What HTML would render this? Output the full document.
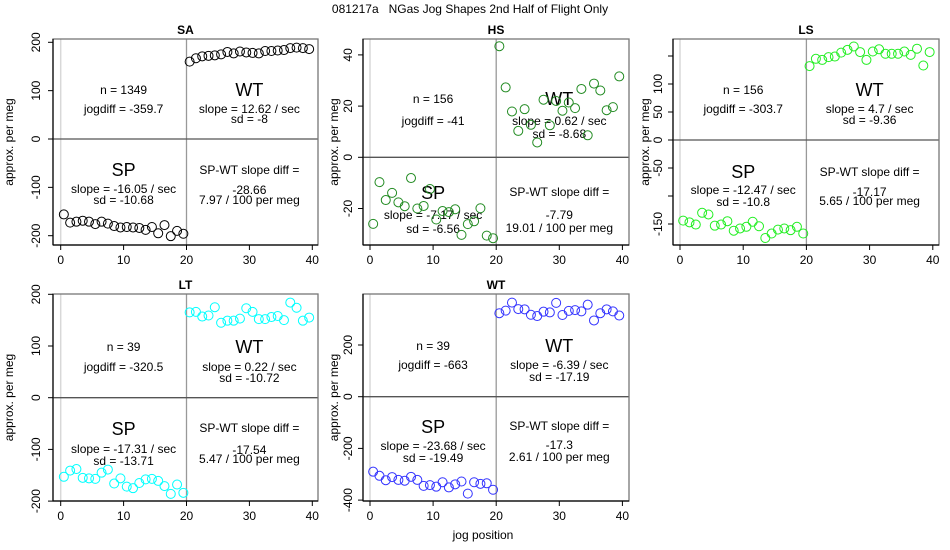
<!DOCTYPE html>
<html><head><meta charset="utf-8">
<style>
html,body{margin:0;padding:0;background:#fff;}
svg{display:block;font-family:"Liberation Sans",Arial,sans-serif;}
</style></head>
<body>
<svg id="chart" width="950" height="550" viewBox="0 0 950 550" xmlns="http://www.w3.org/2000/svg">
<rect x="0" y="0" width="950" height="550" fill="#fff"/>
<text x="470" y="13" font-size="12" text-anchor="middle" fill="#000">081217a&#160;&#160;&#160;NGas Jog Shapes 2nd Half of Flight Only</text>
<text x="483" y="539" font-size="12" text-anchor="middle" fill="#000">jog position</text>
</svg>
<script>
// ---- data ----
const spX = [0.5,1.5,2.5,3.5,4.5,5.5,6.5,7.5,8.5,9.5,10.5,11.5,12.5,13.5,14.5,15.5,16.5,17.5,18.5,19.5];
const wtX = [20.5,21.5,22.5,23.5,24.5,25.5,26.5,27.5,28.5,29.5,30.5,31.5,32.5,33.5,34.5,35.5,36.5,37.5,38.5,39.5];
const xTicks = [0,10,20,30,40];

const saSP = [-156,-173,-171,-169,-171,-176,-171,-175,-180,-183,-182,-183,-184,-188,-182,-195,-178,-201,-190,-196];
const saWT = [160,167,171,172,173,175,180,177,181,179,178,177,182,182,183,184,188,189,188,186];
const hsSP = [-26,-9.7,-16.7,-13.9,-17.6,-19.1,-8.1,-20,-19,-12.4,-24.3,-21,-21.4,-20.3,-30.3,-26.1,-25,-19.9,-30.6,-31.6];
const hsWT = [43.4,27.3,17.9,10.3,18.8,12.7,5.8,22.5,12.5,22,18.2,21.4,19.2,26.7,8.6,28.8,26.1,18.4,19.6,31.6];
const lsSP = [-144,-147,-151,-130,-133,-153,-151,-145,-162,-158,-155,-146,-154,-175,-167,-160,-158,-161,-155,-167];
const lsWT = [132,145,143,148,149,156,161,167,157,143,158,162,154,154,154,158,152,163,133,157];
const ltSP = [-153,-141,-138,-155,-156,-157,-145,-139,-166,-156,-172,-175,-165,-158,-157,-161,-171,-186,-168,-184];
const ltWT = [165,166,157,159,175,145,149,149,153,173,166,152,152,156,158,150,184,174,149,155];
const wtSP = [-290,-306,-323,-311,-322,-325,-310,-322,-345,-342,-348,-331,-351,-339,-328,-375,-331,-337,-335,-360];
const wtWT = [323,333,364,339,338,317,312,329,326,363,316,332,335,330,356,295,323,338,330,314];

const saYTicks = [-200,-100,0,100,200];
const hsYTicks = [-20,0,20,40];
const lsYTicks = [-150,-100,-50,0,50,100,150];
const lsYLabels = ["-150","","-50","0","50","100",""];
const ltYTicks = [-200,-100,0,100,200];
const wtYTicks = [-400,-200,0,200];

const panelTitles = ["SA","HS","LS","LT","WT"];
const nTexts = ["n = 1349","n = 156","n = 156","n = 39","n = 39"];
const jogTexts = ["jogdiff = -359.7","jogdiff = -41","jogdiff = -303.7","jogdiff = -320.5","jogdiff = -663"];
const wtSlopeTexts = ["slope = 12.62 / sec","slope = 0.62 / sec","slope = 4.7 / sec","slope = 0.22 / sec","slope = -6.39 / sec"];
const wtSdTexts = ["sd = -8","sd = -8.68","sd = -9.36","sd = -10.72","sd = -17.19"];
const spSlopeTexts = ["slope = -16.05 / sec","slope = -7.17 / sec","slope = -12.47 / sec","slope = -17.31 / sec","slope = -23.68 / sec"];
const spSdTexts = ["sd = -10.68","sd = -6.56","sd = -10.8","sd = -13.71","sd = -19.49"];
const diffTexts = ["-28.66","-7.79","-17.17","-17.54","-17.3"];
const perMegTexts = ["7.97 / 100 per meg","19.01 / 100 per meg","5.65 / 100 per meg","5.47 / 100 per meg","2.61 / 100 per meg"];

// ---- layout ----
const NS = "http://www.w3.org/2000/svg";
const svg = document.getElementById("chart");
function mk(tag, attrs, parent){
  const e = document.createElementNS(NS, tag);
  for (const k in attrs) e.setAttribute(k, attrs[k]);
  (parent||svg).appendChild(e);
  return e;
}
const panels = [
  {key:"sa", l:53, r:318, t:39, b:245, x0:60.7, xs:6.29, y0:139, ys:0.4835, col:"#000", sp:saSP, wt:saWT, yt:saYTicks, yl:null, ylabX:40, ytitleX:13,
   ty:[90,109,90,109,119,170,189,200,170,190,200]},
  {key:"hs", l:363, r:629, t:39, b:245, x0:370, xs:6.31, y0:157.3, ys:2.56, col:"#228b22", sp:hsSP, wt:hsWT, yt:hsYTicks, yl:null, ylabX:352, ytitleX:338,
   ty:[99,121,99,121,134,193,215,229,192,215,228]},
  {key:"ls", l:673, r:939, t:39, b:245, x0:680, xs:6.32, y0:140, ys:0.56, col:"#22ee22", sp:lsSP, wt:lsWT, yt:lsYTicks, yl:lsYLabels, ylabX:662, ytitleX:649,
   ty:[90,109,90,109,120,172,190,202,172,192,201]},
  {key:"lt", l:53, r:318, t:294, b:501, x0:60.7, xs:6.29, y0:397.7, ys:0.517, col:"#00ffff", sp:ltSP, wt:ltWT, yt:ltYTicks, yl:null, ylabX:40, ytitleX:13,
   ty:[347,367,347,367,378,429,449,461,428,450,459]},
  {key:"wt", l:363, r:629, t:294, b:501, x0:370, xs:6.31, y0:396.7, ys:0.2585, col:"#3333ff", sp:wtSP, wt:wtWT, yt:wtYTicks, yl:null, ylabX:352, ytitleX:338,
   ty:[346,365,346,365,377,427,446,458,426,445,457]}
];

panels.forEach((p, i) => {
  const g = mk("g", {});
  
  
  const X = v => p.x0 + v * p.xs;
  const Y = v => p.y0 - v * p.ys;

  const tt = mk("text", {x:(p.l+p.r)/2, y:p.t-5, "font-size":12, "font-weight":"bold", "text-anchor":"middle"}, g);
  tt.textContent = panelTitles[i];
  
  

  mk("line", {x1:X(0), x2:X(0), y1:p.t, y2:p.b, stroke:"#d8d8d8", "stroke-width":1.5}, g);
  mk("line", {x1:X(20), x2:X(20), y1:p.t, y2:p.b, stroke:"#999", "stroke-width":1.3}, g);
  mk("line", {x1:p.l, x2:p.r, y1:Y(0), y2:Y(0), stroke:"#555", "stroke-width":1.3}, g);

  const box = mk("rect", {x:p.l, y:p.t, width:p.r-p.l, height:p.b-p.t, fill:"none", stroke:"#777", "stroke-width":1.3}, g);
  
  
  mk("line", {x1:p.l, x2:p.l, y1:p.t, y2:p.b, stroke:"#000", "stroke-width":1.2}, g);
  mk("line", {x1:p.l, x2:p.r, y1:p.b, y2:p.b, stroke:"#000", "stroke-width":1.2}, g);

  p.yt.forEach((v, k) => {
    const yy = Y(v);
    mk("line", {x1:p.l-5, x2:p.l, y1:yy, y2:yy, stroke:"#000"}, g);
    const lab = p.yl ? p.yl[k] : String(v);
    if (lab) {
      const t = mk("text", {x:p.ylabX, y:yy, "font-size":12, "text-anchor":"middle", transform:`rotate(-90 ${p.ylabX} ${yy})`}, g);
      t.textContent = lab;
      
      
    }
  });
  xTicks.forEach(v => {
    const xx = X(v);
    mk("line", {x1:xx, x2:xx, y1:p.b, y2:p.b+5, stroke:"#000"}, g);
    const t = mk("text", {x:xx, y:p.b+19, "font-size":12, "text-anchor":"middle"}, g);
    t.textContent = String(v);
    
    
  });
  const cy = (p.t+p.b)/2;
  const yt = mk("text", {x:p.ytitleX, y:cy, "font-size":12, "text-anchor":"middle", transform:`rotate(-90 ${p.ytitleX} ${cy})`}, g);
  yt.textContent = "approx. per meg";
  
  

  const lx = X(10), rx = X(30);
  const specs = [
    [lx, 0, nTexts[i], 12, "n-label"],
    [lx, 1, jogTexts[i], 12, "jogdiff-label"],
    [rx, 2, "WT", 18, "wt-label"],
    [rx, 3, wtSlopeTexts[i], 12, "wt-slope-label"],
    [rx, 4, wtSdTexts[i], 12, "wt-sd-label"],
    [lx, 5, "SP", 18, "sp-label"],
    [lx, 6, spSlopeTexts[i], 12, "sp-slope-label"],
    [lx, 7, spSdTexts[i], 12, "sp-sd-label"],
    [rx, 8, "SP-WT slope diff =", 12, "slope-diff-label"],
    [rx, 9, diffTexts[i], 12, "slope-diff-value"],
    [rx, 10, perMegTexts[i], 12, "per-meg-label"]
  ];
  specs.forEach(s => {
    const t = mk("text", {x:s[0], y:p.ty[s[1]] + (s[3] > 12 ? 6 : 4), "font-size":s[3], "text-anchor":"middle"}, g);
    t.textContent = s[2];
    
    
  });

  p.sp.forEach((v, k) => {
    const c = mk("circle", {cx:X(spX[k]), cy:Y(v), r:4.5, fill:"none", stroke:p.col, "stroke-width":1}, g);
    
    
  });
  p.wt.forEach((v, k) => {
    const c = mk("circle", {cx:X(wtX[k]), cy:Y(v), r:4.5, fill:"none", stroke:p.col, "stroke-width":1}, g);
    
    
  });
});
</script>
</body></html>
